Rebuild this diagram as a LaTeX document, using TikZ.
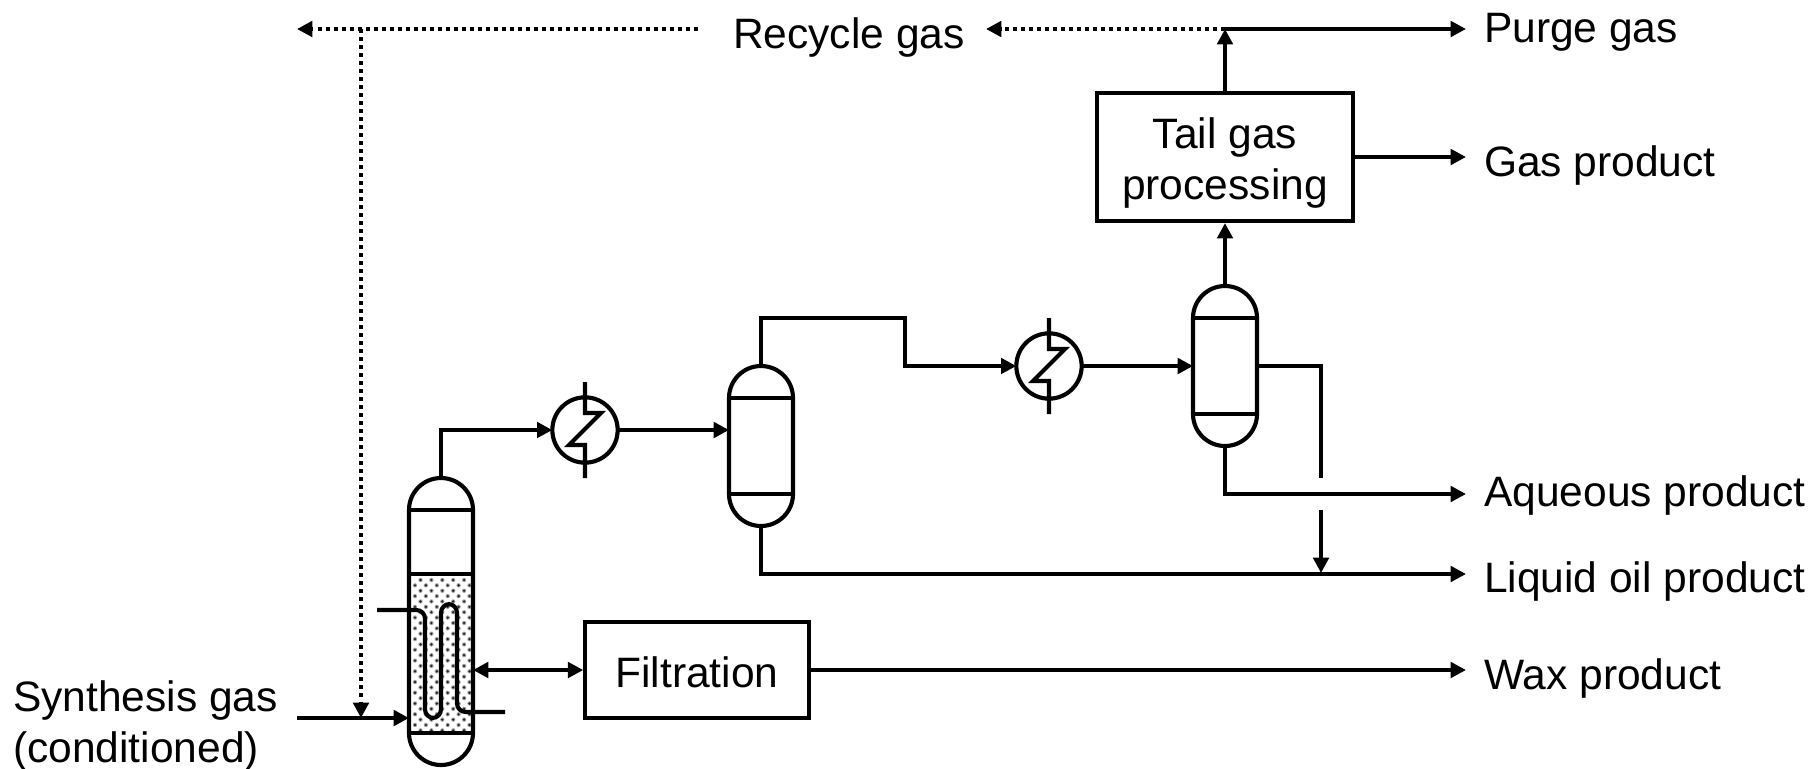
\documentclass[tikz,border=0pt]{standalone}
\usepackage{fontspec}
\setmainfont{Liberation Sans}
\usetikzlibrary{arrows.meta,calc}
\newcommand{\lbl}{\fontsize{31.9}{38}\selectfont}
\tikzset{
  x=0.75pt,y=-0.75pt,
  every picture/.style={line width=3.1pt,line cap=butt,line join=miter},
  tip/.style={-{Triangle[length=11.5pt,width=11.5pt]}},
  tiptwo/.style={{Triangle[length=11.5pt,width=11.5pt]}-{Triangle[length=11.5pt,width=11.5pt]}},
  pipe/.style={draw=black,line width=3.1pt},
  dotline/.style={draw=black,line width=3.1pt,dash pattern=on 3pt off 3pt},
  procbox/.style={draw=black,line width=3.1pt,inner sep=0pt,align=center,font=\lbl},
  vesselbox/.style={inner sep=0pt,outer sep=0pt,minimum width=48pt},
  cooler/.style={circle,draw=black,line width=3.1pt,inner sep=0pt,outer sep=0pt,minimum size=49pt},
  lbl/.style={anchor=base west,inner sep=0pt,font=\lbl},
}
% vessel outline: centre x, dome-line y, lower-line y
\newcommand{\vesselshape}[3]{%
  \draw[pipe] (#1-32,#2) arc[start angle=180,end angle=360,radius=32]
     -- (#1+32,#3) arc[start angle=0,end angle=180,radius=32] -- cycle;
  \draw[pipe] (#1-32,#2) -- (#1+32,#2) (#1-32,#3) -- (#1+32,#3);
}
% cooler zigzag: centre x, y
\newcommand{\coolzig}[2]{%
  \draw[pipe] (#1,#2-48) -- (#1,#2-17) -- (#1+16,#2-17) -- (#1-16,#2+15) -- (#1,#2+15) -- (#1,#2+48);
}
\begin{document}
\begin{tikzpicture}
\useasboundingbox (0,0) rectangle (1819,768);
\begin{scope}[yshift=-0.75pt]

% reactor bed stipple
\begin{scope}
  \clip (408,573) rectangle (473,732);
  \foreach \r in {0,...,30}{
    \pgfmathsetmacro{\yy}{579+\r*5.37}
    \pgfmathsetmacro{\xo}{mod(\r,2)==0 ? 420.5 : 415}
    \foreach \c in {0,...,5}{
      \fill[black!35] ({\xo+\c*10.9},\yy) circle[radius=2.2];
      \fill[black!85] ({\xo+\c*10.9},\yy) circle[radius=1.3];
    }
  }
\end{scope}

% vessels
\node[vesselbox,minimum height=216.75pt] (reactor) at (441,620.5) {};
\node[vesselbox,minimum height=120.75pt] (sepa) at (761,444.5) {};
\node[vesselbox,minimum height=120.75pt] (sepb) at (1225,364.5) {};
\vesselshape{441}{509}{732}
\draw[pipe] (409,573) -- (473,573);
\vesselshape{761}{397}{493}
\vesselshape{1225}{317}{413}

% cooling coil
\coordinate (coilin) at (377,609);
\coordinate (coilout) at (505,711);
\draw[pipe,rounded corners=6.5pt] (coilin) -- (425,609) -- (425,717) -- (441,717) -- (441,603) -- (457,603) -- (457,711) -- (coilout);

% coolers
\node[cooler] (cooa) at (585,429) {};
\node[cooler] (coob) at (1049,365) {};
\coolzig{585}{429}
\coolzig{1049}{365}

% process boxes
\node[procbox,minimum width=167.5pt,minimum height=71.5pt,text height=26.4pt,text depth=0pt] (filt) at (697,669) {Filtration};
\node[procbox,minimum width=192pt,minimum height=96pt] (tail) at (1225,156) {\rule{0pt}{32.4pt}Tail gas\\processing};

% labels
\node[lbl] (lrec) at (731,47) {Recycle gas};
\node[lbl] (lpur) at (1482,41) {Purge gas};
\node[lbl] (lgas) at (1482,175) {Gas product};
\node[lbl] (laq) at (1482,505) {Aqueous product};
\node[lbl] (loil) at (1482,591) {Liquid oil product};
\node[lbl] (lwax) at (1482,688) {Wax product};
\node[lbl] (lsyn) at (11,710) {Synthesis gas};
\node[lbl] (lcon) at (11,761) {(conditioned)};

% free ends
\coordinate (synin) at (297,717);
\coordinate (recl) at (297,28);
\coordinate (recr) at (698,28);
\coordinate (recdrop) at (361,28);
\coordinate (mix) at (361,717);
\coordinate (purj) at (1225,28);
\coordinate (purl) at (986,28);
\coordinate (pure) at (1466,28);
\coordinate (gase) at (1466,156);
\coordinate (aqe) at (1466,493);
\coordinate (oile) at (1466,573);
\coordinate (waxe) at (1466,669);
\coordinate (bend) at (905,317);
\coordinate (drop) at (1321,477);
\coordinate (dropb) at (1321,509);
\coordinate (dropc) at (1321,572);

% connectors
\draw[pipe,tip] (synin) -- (synin -| reactor.west);
\draw[dotline] (recr) -- ($(recl)+(18,0)$);
\draw[tip,pipe] ($(recl)+(16,0)$) -- (recl);
\draw[dotline] (recdrop) -- ($(mix)+(0,-18)$);
\draw[pipe,tip] ($(mix)+(0,-16)$) -- (mix);
\draw[pipe,tip] (reactor.north) |- (cooa.west);
\draw[pipe,tip] (cooa.east) -- (cooa.east -| sepa.west);
\draw[pipe,tip] (sepa.north) |- (bend) |- (coob.west);
\draw[pipe,tip] (coob.east) -- (coob.east -| sepb.west);
\draw[pipe,tip] (sepb.north) -- (tail.south);
\draw[pipe,tip] (tail.north) -- (purj);
\draw[pipe,tip] (purj) -- (pure);
\draw[dotline] (purj) -- ($(purl)+(18,0)$);
\draw[pipe,tip] ($(purl)+(16,0)$) -- (purl);
\draw[pipe,tip] (tail.east |- gase) -- (gase);
\draw[pipe] (sepb.east |- coob.east) -| (drop);
\draw[pipe,tip] (dropb) -- (dropc);
\draw[pipe,tip] (sepb.south) |- (aqe);
\draw[pipe,tip] (sepa.south) |- (oile);
\draw[pipe,tiptwo] (filt.west -| reactor.east) -- (filt.west);
\draw[pipe,tip] (filt.east) -- (waxe);
\end{scope}
\end{tikzpicture}
\end{document}
